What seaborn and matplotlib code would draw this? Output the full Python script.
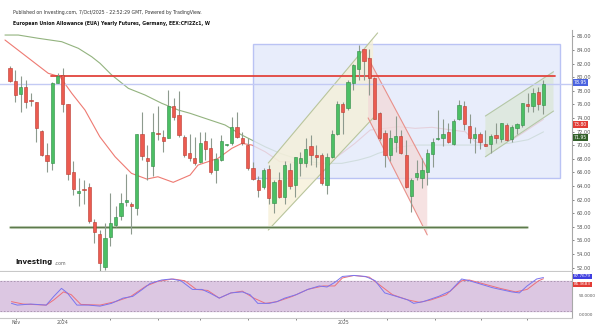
import matplotlib
matplotlib.use("Agg")
import matplotlib.pyplot as plt
import matplotlib.transforms as mtransforms
from matplotlib.patches import Polygon, Rectangle
import numpy as np
import pandas as pd
import seaborn as sns

# ---- weekly OHLC, EUA yearly futures ----
opens = [81.4, 79.5, 77.5, 78.5, 76.7, 76.4, 72.1, 68.5, 67.4, 79.2,
         80.3, 76.0, 66.0, 63.0, 63.6, 63.8, 58.7, 57.0, 52.1, 56.5,
         58.3, 59.6, 61.7, 61.3, 60.7, 71.6, 68.1, 67.0, 71.8, 71.2,
         71.1, 75.7, 74.4, 71.2, 68.8, 68.1, 67.5, 70.6, 69.6, 66.3,
         67.8, 70.0, 70.3, 72.6, 71.1, 70.0, 66.6, 64.9, 63.9, 66.5,
         61.5, 64.8, 62.4, 66.3, 64.1, 67.3, 67.3, 69.8, 68.6, 68.6,
         64.1, 68.2, 71.7, 76.1, 75.4, 79.1, 81.2, 84.1, 82.8, 79.9,
         74.7, 71.8, 68.5, 70.4, 71.3, 68.6, 62.5, 65.3, 65.1, 66.1,
         68.7, 70.9, 71.1, 72.0, 70.1, 73.9, 75.8, 72.8, 71.0, 71.7,
         70.2, 70.1, 71.5, 70.9, 73.0, 70.9, 72.5, 72.9, 76.1, 75.7,
         77.8, 75.9]
highs = [81.6, 81.0, 80.1, 79.6, 77.6, 76.4, 72.2, 70.3, 79.3, 80.6,
         81.3, 76.0, 67.6, 65.1, 64.9, 64.4, 59.2, 57.5, 58.6, 62.9,
         61.0, 62.9, 65.8, 61.7, 71.7, 74.9, 70.0, 74.7, 75.7, 72.2,
         78.1, 76.9, 77.9, 71.5, 71.6, 71.2, 72.0, 72.0, 71.0, 68.8,
         71.5, 70.2, 74.1, 74.8, 72.0, 71.0, 67.5, 65.4, 66.6, 67.1,
         64.9, 66.1, 67.6, 67.3, 68.3, 69.0, 71.0, 71.5, 70.0, 68.8,
         68.8, 72.2, 76.5, 76.4, 79.6, 82.0, 84.7, 84.2, 84.2, 80.0,
         74.9, 72.2, 72.2, 74.3, 72.2, 70.8, 65.1, 67.8, 68.1, 69.4,
         71.0, 75.2, 73.9, 73.2, 73.9, 76.7, 76.5, 74.6, 72.7, 72.0,
         72.2, 71.6, 73.2, 73.3, 73.2, 73.0, 73.3, 76.2, 77.6, 78.4,
         78.6, 79.6]
lows = [79.3, 76.4, 74.9, 75.4, 75.7, 70.5, 68.4, 66.1, 66.3, 79.1,
        74.8, 64.9, 62.7, 61.0, 61.4, 58.5, 55.6, 51.4, 51.6, 55.1,
        58.0, 59.0, 61.0, 57.0, 59.7, 67.8, 64.9, 65.4, 70.8, 69.0,
        71.0, 73.7, 71.2, 68.3, 67.6, 67.1, 67.3, 67.8, 65.8, 64.4,
        67.6, 69.9, 70.0, 71.0, 70.0, 66.3, 64.9, 62.4, 63.6, 61.4,
        60.0, 62.2, 61.4, 63.6, 62.4, 65.4, 66.8, 67.1, 66.8, 64.1,
        62.8, 68.1, 71.5, 71.7, 75.2, 78.1, 79.6, 79.6, 77.4, 73.9,
        70.8, 66.8, 67.6, 69.0, 68.7, 63.7, 60.2, 64.9, 63.7, 64.1,
        66.8, 70.8, 69.8, 70.3, 70.0, 73.7, 72.2, 70.3, 68.8, 69.5,
        69.8, 68.8, 70.3, 70.5, 70.6, 70.5, 71.6, 72.7, 74.9, 74.9,
        75.2, 74.6]
closes = [79.5, 77.3, 78.5, 76.3, 76.5, 72.5, 68.6, 67.6, 79.2, 80.2,
          76.0, 65.8, 63.5, 63.2, 63.4, 58.8, 57.2, 52.6, 56.3, 58.5,
          59.4, 61.5, 61.9, 61.1, 71.6, 68.4, 67.6, 71.9, 71.6, 70.6,
          75.8, 74.1, 71.5, 68.5, 68.1, 67.4, 70.3, 69.4, 66.0, 67.9,
          70.6, 70.2, 72.6, 71.2, 70.3, 66.6, 65.0, 63.4, 66.3, 62.2,
          64.6, 62.3, 67.1, 64.0, 68.2, 68.1, 69.4, 68.5, 68.3, 64.4,
          68.2, 71.6, 76.0, 74.9, 79.3, 81.8, 83.9, 82.3, 79.8, 73.9,
          71.0, 68.6, 71.0, 71.3, 68.9, 63.9, 64.8, 65.9, 66.4, 68.8,
          70.4, 71.1, 71.6, 70.5, 73.6, 75.9, 73.1, 71.0, 71.7, 70.5,
          69.9, 71.3, 71.1, 73.2, 70.8, 72.6, 73.1, 76.2, 75.8, 77.6,
          76.0, 78.95]

# ---- moving averages (bar index, value) ----
ma_fast_idx = [-0.95, 7.25, 9.47, 11.7, 14.2, 17.0, 19.9, 23.0, 25.9, 28.0,
               30.9, 34.1, 35.6, 39.4, 42.0, 43.9, 45.8, 48.3, 51.1, 52.7,
               56.4, 60.2, 62.8, 65.3, 68.2, 71.0, 73.5, 76.7, 79.9, 83.7,
               86.2, 88.1, 90.0, 92.4, 95.0, 97.5, 101]
ma_fast_val = [85.46, 80.56, 80.06, 77.62, 75.16, 71.24, 68.29, 65.85, 65.01, 65.35,
               64.53, 65.60, 67.07, 68.06, 69.53, 70.26, 70.01, 69.03, 67.56, 67.56,
               67.07, 67.32, 68.79, 70.26, 72.22, 72.47, 72.71, 72.47, 72.62, 72.22,
               71.97, 70.50, 70.01, 70.26, 70.75, 72.00, 73.80]
ma_slow_idx = [-0.95, 1.57, 5.36, 9.79, 12.94, 15.47, 17.05, 19.26, 22.41, 25.57,
               28.73, 31.88, 34.09, 36.93, 40.72, 43.88, 45.78, 48.30, 51.14, 53.98,
               56.44, 59.66, 62.82, 65.97, 68.18, 69.70, 73.48, 76.70, 79.86, 85.23,
               90.53, 94.32, 98.11, 101]
ma_slow_val = [86.19, 86.19, 85.71, 85.21, 84.24, 83.00, 82.03, 80.31, 78.35, 77.37,
               76.15, 75.16, 74.68, 73.94, 72.96, 71.49, 70.75, 69.76, 68.79, 68.06,
               67.56, 67.32, 67.32, 67.81, 68.29, 68.79, 69.68, 70.01, 70.01, 70.01,
               70.01, 70.26, 70.80, 71.95]

# ---- stochastic RSI ----
k_idx = [0.28, 1.38, 3.94, 6.86, 8.30, 9.75, 10.85, 12.67, 14.87, 17.05,
         19.22, 21.40, 23.24, 25.06, 26.52, 28.69, 30.53, 32.35, 34.53, 36.34,
         37.80, 39.62, 41.82, 43.99, 45.45, 46.91, 49.09, 50.55, 52.01, 54.20,
         56.38, 58.56, 60.02, 61.48, 62.94, 65.11, 67.31, 69.13, 70.95, 73.14,
         75.32, 76.42, 78.24, 81.16, 83.33, 85.51, 86.97, 89.17, 91.34, 92.80,
         94.98, 96.44, 97.90, 99.72, 101]
k_val = [35.6, 32.1, 34.2, 32.1, 49.7, 65.9, 56.7, 32.1, 32.1, 30.0,
         35.6, 46.2, 49.7, 63.8, 75.8, 82.8, 84.9, 81.4, 63.8, 63.8,
         56.7, 46.2, 56.7, 58.8, 53.2, 35.6, 35.6, 39.1, 46.2, 53.2,
         63.8, 70.8, 68.7, 77.9, 90.0, 92.0, 90.0, 81.4, 56.7, 49.7,
         42.6, 35.6, 39.1, 49.7, 60.3, 84.9, 81.4, 74.3, 67.3, 63.8,
         58.8, 56.7, 70.8, 84.9, 87.7679]
d_idx = [0.28, 2.48, 6.86, 8.30, 10.13, 11.59, 13.41, 17.05, 19.96, 22.88,
         25.80, 27.97, 30.89, 33.07, 35.27, 37.44, 39.62, 41.82, 43.99, 46.17,
         48.37, 50.55, 53.46, 56.38, 59.30, 61.48, 62.94, 65.11, 68.03, 70.23,
         72.40, 75.32, 77.50, 79.70, 82.61, 85.51, 86.97, 89.89, 92.80, 95.72,
         97.90, 100.09, 101]
d_val = [39.1, 34.2, 32.1, 42.6, 58.8, 53.2, 33.5, 32.1, 39.1, 49.7,
         70.8, 80.0, 84.9, 81.4, 63.8, 61.7, 46.2, 56.7, 60.3, 46.2,
         35.6, 39.1, 49.7, 63.8, 70.8, 70.8, 87.0, 92.0, 88.6, 70.8,
         53.2, 42.6, 37.7, 42.6, 53.2, 81.4, 82.8, 74.3, 65.9, 58.8,
         63.8, 81.4, 85.3683]

# ---- time axis ----
time_labels = ["Nov", "2024", "2025"]
time_label_pos = [1.1, 9.85, 63.2]
time_minor_pos = [18.86, 27.97, 35.98, 45.08, 54.17, 71.31, 80.42, 89.17, 97.92]
price_ticks = list(range(52, 87, 2))

UP, DOWN = "#4cbf64", "#ec5b50"
UP_EDGE, DOWN_EDGE = "#2f8a45", "#b8392f"
WICK = "#8d9a8e"

sns.set_theme(style="white")
plt.rcParams["font.family"] = ["DejaVu Sans"]

fig = plt.figure(figsize=(6.0, 3.26), dpi=100)
W, H = 600.0, 326.0
ax = fig.add_axes([0, 1 - 271 / H, 572 / W, 241 / H])
axs = fig.add_axes([0, 1 - 318 / H, 572 / W, 46 / H], sharex=ax)

df = pd.DataFrame({"open": opens, "high": highs, "low": lows, "close": closes})
df["i"] = np.arange(len(df))
df["up"] = df["close"] >= df["open"]

# moving averages
sns.lineplot(x=ma_slow_idx, y=ma_slow_val, ax=ax, color="#93b37f", lw=0.8, zorder=1, sort=False)
sns.lineplot(x=ma_fast_idx, y=ma_fast_val, ax=ax, color="#ee7a72", lw=0.8, zorder=1, sort=False)

# range box
ax.add_patch(Rectangle((45.97, 65.12), 104.2 - 45.97, 84.87 - 65.12, facecolor="#e2e9fa",
                       edgecolor="#aab5f2", lw=1.0, alpha=0.78, zorder=1.5))

# rising channel (2024-25 rally)
ax.add_patch(Polygon([(48.9, 67.37), (68.75, 85.75), (68.75, 73.99), (48.9, 57.51)],
                     closed=True, facecolor="#f6f0d6", alpha=0.75, edgecolor="none", zorder=1.6))
ax.plot([48.9, 69.6], [67.37, 86.5], color="#b9c59c", lw=0.8, zorder=1.7)
ax.plot([48.9, 68.75], [57.51, 73.99], color="#b9c59c", lw=0.8, zorder=1.7)

# falling channel
ax.add_patch(Polygon([(67.8, 82.8), (79.0, 66.5), (79.0, 56.8), (67.8, 74.0)],
                     closed=True, facecolor="#f3d9d9", alpha=0.75, edgecolor="none", zorder=1.6))
ax.plot([67.8, 79.0], [82.8, 66.5], color="#e8918b", lw=0.8, zorder=1.7)
ax.plot([67.8, 79.0], [74.0, 56.8], color="#e8918b", lw=0.8, zorder=1.7)

# recent rising channel
ax.add_patch(Polygon([(90.0, 74.28), (102.9, 80.79), (102.9, 75.01), (90.0, 68.29)],
                     closed=True, facecolor="#dbe7d8", alpha=0.75, edgecolor="none", zorder=1.6))
ax.plot([90.0, 102.9], [74.28, 80.79], color="#b4c7a6", lw=0.8, zorder=1.7)
ax.plot([90.0, 102.9], [68.29, 75.01], color="#b4c7a6", lw=0.8, zorder=1.7)

# horizontal levels
ax.plot([-2, 106.4], [closes[-1], closes[-1]], color="#c3caf4", lw=1.0, zorder=1.8)
ax.plot([7.77, 103.2], [80.2, 80.2], color="#e2443d", lw=1.3, zorder=2.6)
ax.plot([0, 97.9], [58.0, 58.0], color="#c9d6c0", lw=2.2, zorder=2.4)
ax.plot([0, 97.9], [58.0, 58.0], color="#5d7a4d", lw=1.0, zorder=2.5)

# candles
ax.vlines(df["i"], df["low"], df["high"], color=WICK, lw=0.8, zorder=3)
body_lo = np.minimum(df["open"], df["close"])
body_h = np.maximum(np.abs(df["close"] - df["open"]), 0.15)
ax.bar(df["i"], body_h, bottom=body_lo, width=0.62,
       color=np.where(df["up"], UP, DOWN),
       edgecolor=np.where(df["up"], UP_EDGE, DOWN_EDGE), linewidth=0.4, zorder=4)

ax.set_xlim(-1.89, 106.4)
ax.set_ylim(51.49, 86.93)
ax.yaxis.tick_right()
ax.set_yticks(price_ticks)
ax.set_yticklabels([f"{v:.2f}" for v in price_ticks])
ax.tick_params(axis="y", labelsize=3.6, colors="#555555", length=1.5, width=0.5, pad=1.5)
ax.tick_params(axis="x", bottom=False, labelbottom=False)
for s in ["top", "left"]:
    ax.spines[s].set_visible(False)
ax.spines["right"].set_color("#a8a8a8")
ax.spines["right"].set_linewidth(0.8)
ax.spines["bottom"].set_color("#c8c8c8")
ax.spines["bottom"].set_linewidth(0.8)
ax.set_xlabel("")
ax.set_ylabel("")

# price tags on the axis (stacked just under the line ends, as the platform does)
tr = mtransforms.blended_transform_factory(ax.transAxes, ax.transData)
for val, ypos, fc in [(closes[-1], closes[-1] + 0.3, "#4a63e0"),
                      (ma_fast_val[-1], 73.05, "#e23b35"),
                      (ma_slow_val[-1], 71.15, "#33602a")]:
    ax.text(1.003, ypos, f"{val:.2f}", transform=tr, fontsize=3.3, color="white", va="center",
            ha="left", clip_on=False, zorder=6,
            bbox=dict(boxstyle="square,pad=0.2", fc=fc, ec="none"))

# Investing.com logo
ax.text(0.95, 52.8, "Investing", fontsize=5.0, fontweight="bold", color="#1a1a1a",
        va="center", ha="left", zorder=6)
ax.text(8.35, 52.65, ".com", fontsize=3.4, color="#666666", va="center", ha="left", zorder=6)

# ---- stochastic panel ----
axs.axhspan(20, 80, color="#dcc7e2", zorder=0.5)
axs.axhline(80, color="#a390aa", lw=0.6, ls=(0, (2, 2)), zorder=0.6)
axs.axhline(20, color="#a390aa", lw=0.6, ls=(0, (2, 2)), zorder=0.6)
sns.lineplot(x=d_idx, y=d_val, ax=axs, color="#ee6f79", lw=0.7, zorder=2, sort=False)
sns.lineplot(x=k_idx, y=k_val, ax=axs, color="#7a74ee", lw=0.7, zorder=3, sort=False)
axs.set_ylim(6.0, 99.0)
axs.set_xlim(-1.89, 106.4)
axs.set_yticks([])
axs.set_xticks(time_label_pos + time_minor_pos)
axs.set_xticklabels(time_labels + [""] * len(time_minor_pos))
axs.tick_params(axis="x", labelsize=3.3, colors="#555555", length=1.2, width=0.5, pad=0.4,
                bottom=True)
for s in ["top", "left"]:
    axs.spines[s].set_visible(False)
axs.spines["right"].set_color("#a8a8a8")
axs.spines["right"].set_linewidth(0.8)
axs.spines["bottom"].set_color("#c8c8c8")
axs.spines["bottom"].set_linewidth(0.8)
axs.set_xlabel("")
axs.set_ylabel("")

trs = mtransforms.blended_transform_factory(axs.transAxes, axs.transData)
axs.text(1.003, 90.0, f"{k_val[-1]:.4f}", transform=trs, fontsize=3.0, color="white",
         va="center", ha="left", clip_on=False, bbox=dict(boxstyle="square,pad=0.2", fc="#3f3fe0", ec="none"))
axs.text(1.003, 74.0, f"{d_val[-1]:.4f}", transform=trs, fontsize=3.0, color="white",
         va="center", ha="left", clip_on=False, bbox=dict(boxstyle="square,pad=0.2", fc="#e23b35", ec="none"))
axs.text(1.012, 50, "50.0000", transform=trs, fontsize=3.0, color="#555555", va="center", ha="left")
axs.text(1.012, 12, "0.0000", transform=trs, fontsize=3.0, color="#555555", va="center", ha="left",
         clip_on=False)

# header
fig.text(13 / W, 1 - 12.7 / H, "Published on Investing.com, 7/Oct/2025 - 22:52:29 GMT, Powered by TradingView.",
         fontsize=3.3, color="#333333", va="center", ha="left")
fig.text(13 / W, 1 - 23.7 / H, "European Union Allowance (EUA) Yearly Futures, Germany, EEX:CFI2Zc1, W",
         fontsize=3.3, fontweight="bold", color="#111111", va="center", ha="left")

fig.savefig("out.png", dpi=100, facecolor="white")
